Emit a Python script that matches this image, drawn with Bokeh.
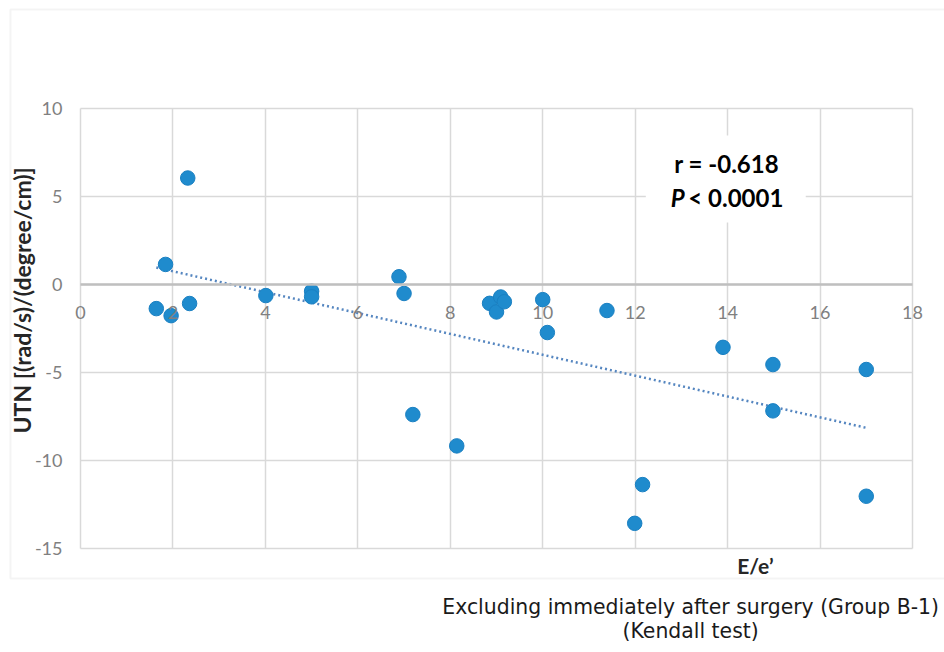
import numpy as np
from bokeh.plotting import figure
from bokeh.models import (Range1d, Label, BoxAnnotation, ColumnDataSource,
                          FixedTicker, LinearAxis, Grid, PrintfTickFormatter)
from bokeh.embed import file_html
from bokeh.resources import INLINE

# E/e' ratio versus UTN, one point per patient
ee_ratio = [1.64, 1.84, 1.96, 2.32, 2.36, 4.01, 5.00, 5.00, 6.89, 7.00,
            7.19, 8.14, 8.85, 9.00, 9.09, 9.17, 10.00, 10.10, 11.39, 12.16,
            11.99, 13.90, 14.98, 14.98, 17.00, 17.00]
utn = [-1.37, 1.14, -1.77, 6.05, -1.08, -0.63, -0.38, -0.70, 0.44, -0.51,
       -7.39, -9.17, -1.07, -1.56, -0.71, -0.98, -0.86, -2.73, -1.48, -11.37,
       -13.57, -3.57, -4.55, -7.18, -4.83, -12.03]

x_ticks = [0, 2, 4, 6, 8, 10, 12, 14, 16, 18]
y_ticks = [-15, -10, -5, 0, 5, 10]

stat_r = "r = -0.618"
stat_p = "< 0.0001"
x_title = "E/e\u2019"
y_title = "UTN [(rad/s)/(degree/cm)]"
caption_1 = "Excluding immediately after surgery (Group B-1)"
caption_2 = "(Kendall test)"

TICK_FONT = "Lato"
CAPTION_FONT = "DejaVu Sans"
GRID = "#d9d9d9"
BLUE = "#1f8bcd"

# The frame covers the whole canvas; the plot area (0..18, -15..10) sits
# inside it so that titles and the caption can be placed in data units.
p = figure(width=944, height=652, output_backend="svg", toolbar_location=None,
           x_range=Range1d(-1.7308, 18.6923), y_range=Range1d(-20.909, 16.136),
           x_axis_location=None, y_axis_location=None, min_border=0)
p.background_fill_color = "white"
p.border_fill_color = "white"
p.outline_line_color = None
for g in p.grid:
    g.visible = False

# grid lines limited to the plot area
if "cross_bounds" in Grid.properties():
    p.add_layout(Grid(dimension=0, ticker=FixedTicker(ticks=x_ticks),
                      cross_bounds=(min(y_ticks), max(y_ticks)),
                      grid_line_color=GRID, grid_line_width=1.5))
    p.add_layout(Grid(dimension=1, ticker=FixedTicker(ticks=y_ticks),
                      cross_bounds=(min(x_ticks), max(x_ticks)),
                      grid_line_color=GRID, grid_line_width=1.5))
else:
    p.segment(x0=x_ticks, x1=x_ticks, y0=[min(y_ticks)] * len(x_ticks),
              y1=[max(y_ticks)] * len(x_ticks), line_color=GRID, line_width=1.5,
              level="underlay")
    p.segment(x0=[min(x_ticks)] * len(y_ticks), x1=[max(x_ticks)] * len(y_ticks),
              y0=y_ticks, y1=y_ticks, line_color=GRID, line_width=1.5,
              level="underlay")

# x axis crosses at y = 0, labels hang below that line
xa = LinearAxis(fixed_location=0, bounds=(min(x_ticks), max(x_ticks)),
                ticker=FixedTicker(ticks=x_ticks),
                formatter=PrintfTickFormatter(format="%d"))
xa.axis_line_color = "#bfbfbf"
xa.axis_line_width = 2.5
xa.major_tick_line_color = None
xa.minor_tick_line_color = None
xa.major_tick_out = 0
xa.major_tick_in = 0
xa.major_label_standoff = 22
xa.major_label_text_color = "#808080"
xa.major_label_text_font = TICK_FONT
xa.major_label_text_font_size = "18px"
p.add_layout(xa, "below")

ya = LinearAxis(fixed_location=0, bounds=(min(y_ticks), max(y_ticks)),
                ticker=FixedTicker(ticks=y_ticks),
                formatter=PrintfTickFormatter(format="%d"))
ya.axis_line_color = None
ya.major_tick_line_color = None
ya.minor_tick_line_color = None
ya.major_tick_out = 0
ya.major_tick_in = 0
ya.major_label_standoff = 18
ya.major_label_text_color = "#808080"
ya.major_label_text_font = TICK_FONT
ya.major_label_text_font_size = "18px"
p.add_layout(ya, "left")

# outer chart-area border
p.add_layout(BoxAnnotation(left=-1.515, right=19.5, top=15.63, bottom=-16.7,
                           fill_color=None, line_color=GRID, line_width=2))

# linear trend line from least squares on the points
x_arr = np.array(ee_ratio)
y_arr = np.array(utn)
slope, intercept = np.polyfit(x_arr, y_arr, 1)
tx = np.array([x_arr.min(), x_arr.max()])
p.line(tx, slope * tx + intercept, line_color="#5586c0", line_width=2.5,
       line_dash="2 3")

src = ColumnDataSource(dict(x=ee_ratio, y=utn))
p.scatter("x", "y", source=src, size=14.5, fill_color=BLUE, line_color="#1a80c2",
          line_width=1)

# statistics box
p.add_layout(BoxAnnotation(left=12.23, right=15.69, top=8.47, bottom=3.52,
                           fill_color="white", fill_alpha=1, line_color=None))
p.add_layout(Label(x=13.98, y=6.85, text=stat_r, text_align="center",
                   text_baseline="middle", text_font=TICK_FONT,
                   text_font_style="bold", text_font_size="24px",
                   text_color="black"))
p.add_layout(Label(x=13.07, y=4.95, text="P", text_align="right",
                   text_baseline="middle", text_font=TICK_FONT,
                   text_font_style="bold italic", text_font_size="24px",
                   text_color="black"))
p.add_layout(Label(x=13.15, y=4.95, text=stat_p, text_align="left",
                   text_baseline="middle", text_font=TICK_FONT,
                   text_font_style="bold", text_font_size="24px",
                   text_color="black"))

# axis titles
p.add_layout(Label(x=-1.26, y=-0.9, text=y_title,
                   angle=np.pi / 2, text_align="center", text_baseline="middle",
                   text_font=TICK_FONT, text_font_style="bold",
                   text_font_size="23px", text_color="#262626"))
p.add_layout(Label(x=14.6, y=-15.97, text=x_title, text_align="center",
                   text_baseline="middle", text_font=TICK_FONT,
                   text_font_style="bold", text_font_size="21px",
                   text_color="#262626"))

# caption under the chart
p.add_layout(Label(x=13.2, y=-18.3, text=caption_1, text_align="center",
                   text_baseline="middle", text_font=CAPTION_FONT,
                   text_font_size="20.4px", text_color="#1a1a1a"))
p.add_layout(Label(x=13.2, y=-19.67, text=caption_2, text_align="center",
                   text_baseline="middle", text_font=CAPTION_FONT,
                   text_font_size="20.4px", text_color="#1a1a1a"))

open("out.html", "w").write(file_html(p, INLINE))
